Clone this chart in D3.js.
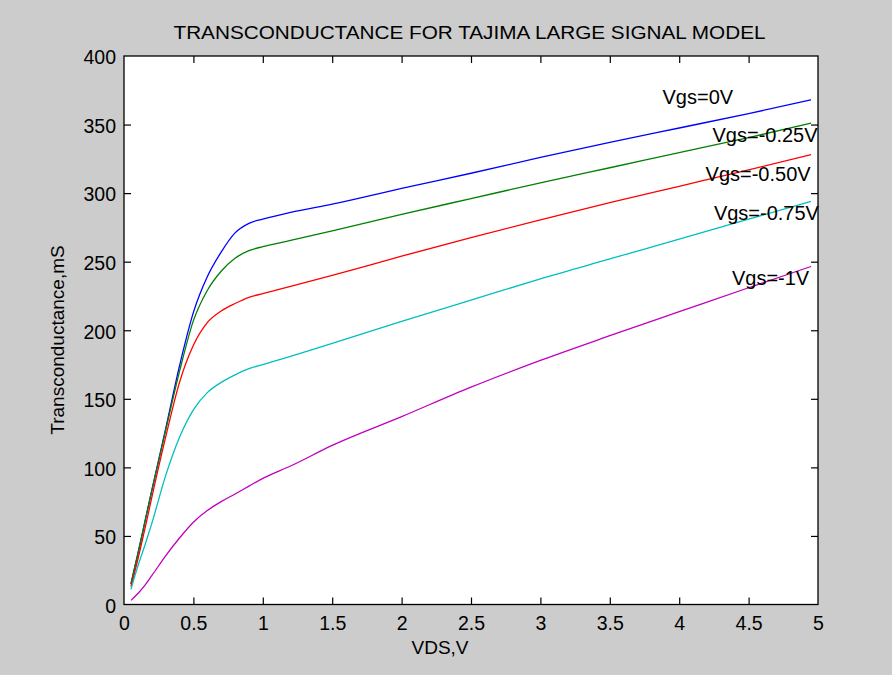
<!DOCTYPE html>
<html>
<head>
<meta charset="utf-8">
<script src="https://cdn.jsdelivr.net/npm/d3@7"></script>
<style>
  html, body { margin: 0; padding: 0; background: #cccccc; }
  svg { display: block; }
  text { font-family: "Liberation Sans", Arial, Helvetica, sans-serif; fill: #000; }
</style>
</head>
<body>
<svg id="chart" width="892" height="675"></svg>
<script>
// Drain-source voltage samples (V)
const vds = [0.05, 0.1, 0.15, 0.2, 0.3, 0.4, 0.5, 0.6, 0.7, 0.8, 0.9, 1.0,
             1.2, 1.5, 2.0, 2.5, 3.0, 3.5, 4.0, 4.5, 4.95];

// Transconductance (mS) for each gate bias
const gmVgs0    = [15, 37, 60, 83, 128, 174, 213, 239, 257, 271, 278, 281,
                   286, 292, 303.5, 314.5, 326, 337, 347.5, 358, 368];
const gmVgs025  = [15, 37, 60, 83, 127, 170, 207, 229, 243, 252.5, 258, 261,
                   265.5, 272.5, 284.5, 296, 307.5, 318.5, 329.5, 340.5, 351];
const gmVgs050  = [13, 33, 55, 78, 122, 162, 189, 205.5, 214, 219.5, 224, 226.7,
                   232, 240, 254, 267.5, 280.5, 293, 305, 317, 328];
const gmVgs075  = [11, 28, 43, 59, 94, 122, 142, 154.5, 162, 167.5, 172, 175,
                   181, 190.5, 206.5, 222, 237.5, 252, 266.5, 281, 294];
const gmVgs1    = [3, 8, 14, 21, 35.5, 48.5, 60, 68.5, 75, 80.6, 86.3, 92,
                   101, 116, 137, 158.5, 178, 196, 213.5, 231, 246.5];

const seriesNames  = ["Vgs=0V", "Vgs=-0.25V", "Vgs=-0.50V", "Vgs=-0.75V", "Vgs=-1V"];
const seriesValues = [gmVgs0, gmVgs025, gmVgs050, gmVgs075, gmVgs1];
const seriesColors = ["#0000ff", "#008000", "#ff0000", "#00bfbf", "#bf00bf"];

// Curve label anchor points (data units: V, mS)
const labelX = [3.88, 4.24, 4.19, 4.25, 4.38];
const labelY = [365, 337, 308.5, 280.5, 233];

const xTicks = [0, 0.5, 1, 1.5, 2, 2.5, 3, 3.5, 4, 4.5, 5];
const yTicks = [0, 50, 100, 150, 200, 250, 300, 350, 400];

const titleText  = "TRANSCONDUCTANCE FOR TAJIMA LARGE SIGNAL MODEL";
const xLabelText = "VDS,V";
const yLabelText = "Transconductance,mS";

// Layout
const plot = { left: 124, right: 818, top: 56, bottom: 604.5 };

const svg = d3.select("#chart");

svg.append("rect")
  .attr("x", 0).attr("y", 0).attr("width", 892).attr("height", 675)
  .attr("fill", "#cccccc");

const x = d3.scaleLinear().domain([0, 5]).range([plot.left, plot.right]);
const y = d3.scaleLinear().domain([0, 400]).range([plot.bottom, plot.top]);

// Plot area
svg.append("rect")
  .attr("x", plot.left).attr("y", plot.top)
  .attr("width", plot.right - plot.left).attr("height", plot.bottom - plot.top)
  .attr("fill", "#ffffff");

// Curves
const line = d3.line()
  .x((d, i) => x(vds[i]))
  .y(d => y(d))
  .curve(d3.curveMonotoneX);

const curves = svg.append("g");
seriesValues.forEach((vals, k) => {
  curves.append("path")
    .datum(vals)
    .attr("d", line)
    .attr("fill", "none")
    .attr("stroke", seriesColors[k])
    .attr("stroke-width", 1.3);
});

// Axes: ticks pointing inward on all four sides
const tickLen = 7;
const axisFont = "19.5px";

const xBottom = svg.append("g")
  .attr("transform", `translate(0,${plot.bottom})`)
  .call(d3.axisBottom(x).tickValues(xTicks).tickSize(-tickLen).tickPadding(12)
        .tickFormat(d3.format("~g")));
const xTop = svg.append("g")
  .attr("transform", `translate(0,${plot.top})`)
  .call(d3.axisTop(x).tickValues(xTicks).tickSize(-tickLen).tickFormat(""));
const yLeft = svg.append("g")
  .attr("transform", `translate(${plot.left},0)`)
  .call(d3.axisLeft(y).tickValues(yTicks).tickSize(-tickLen).tickPadding(8)
        .tickFormat(d3.format("~g")));
const yRight = svg.append("g")
  .attr("transform", `translate(${plot.right},0)`)
  .call(d3.axisRight(y).tickValues(yTicks).tickSize(-tickLen).tickFormat(""));

[xBottom, xTop, yLeft, yRight].forEach(g => {
  g.select(".domain").remove();
  g.selectAll(".tick line").attr("stroke", "#000").attr("stroke-width", 1.2);
  g.selectAll(".tick text")
    .style("font-family", '"Liberation Sans", Arial, Helvetica, sans-serif')
    .style("font-size", axisFont)
    .attr("fill", "#000");
});

// Drop end ticks that sit on the frame
[xBottom, xTop].forEach(g => g.selectAll(".tick line").filter(d => d === 0 || d === 5).remove());
[yLeft, yRight].forEach(g => g.selectAll(".tick line").filter(d => d === 0 || d === 400).remove());

yLeft.selectAll(".tick text").attr("dy", "0.4em");

// Frame
svg.append("rect")
  .attr("x", plot.left).attr("y", plot.top)
  .attr("width", plot.right - plot.left).attr("height", plot.bottom - plot.top)
  .attr("fill", "none")
  .attr("stroke", "#000")
  .attr("stroke-width", 1.3);

// Curve labels
svg.append("g").selectAll("text")
  .data(seriesNames)
  .join("text")
  .attr("x", (d, i) => x(labelX[i]))
  .attr("y", (d, i) => y(labelY[i]))
  .style("font-size", "20px")
  .text(d => d);

// Title
svg.append("text")
  .attr("x", 173.5)
  .attr("y", 38.7)
  .attr("textLength", 592)
  .attr("lengthAdjust", "spacingAndGlyphs")
  .style("font-size", "18.5px")
  .text(titleText);

// Axis labels
svg.append("text")
  .attr("x", 440)
  .attr("y", 654)
  .attr("text-anchor", "middle")
  .style("font-size", "19px")
  .text(xLabelText);

svg.append("text")
  .attr("transform", "translate(64,340) rotate(-90)")
  .attr("text-anchor", "middle")
  .style("font-size", "19px")
  .text(yLabelText);
</script>
</body>
</html>
